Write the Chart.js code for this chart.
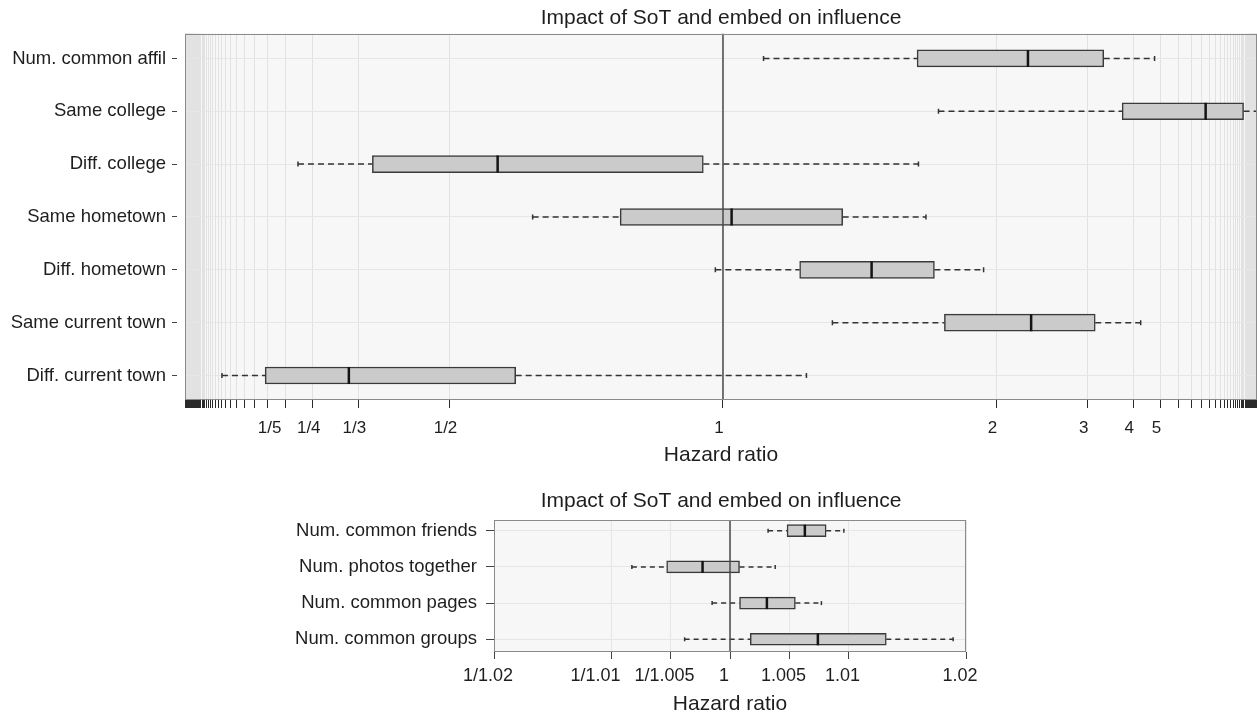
<!DOCTYPE html>
<html>
<head>
<meta charset="utf-8">
<script src="https://cdn.jsdelivr.net/npm/chart.js@4.4.1/dist/chart.umd.min.js"></script>
<style>
  html, body { margin: 0; padding: 0; background: #ffffff; }
  body { width: 1257px; height: 714px; overflow: hidden; position: relative; }
  canvas { position: absolute; }
</style>
</head>
<body>
<canvas id="topChart" width="1257" height="470" style="left:0;top:0;width:1257px;height:470px"></canvas>
<canvas id="bottomChart" width="1072" height="240" style="left:185px;top:480px;width:1072px;height:240px"></canvas>
<script>
// ---------------- DATA ----------------
const chartTitle = 'Impact of SoT and embed on influence';
const axisTitle = 'Hazard ratio';

// Top panel (hazard ratios)
const topCategories = ['Num. common affil', 'Same college', 'Diff. college', 'Same hometown',
                       'Diff. hometown', 'Same current town', 'Diff. current town'];
const topMin    = [1.08, 1.65, 0.223, 0.652, 0.986, 1.25, 0.084];
const topQ1     = [1.55, 3.70, 0.359, 0.812, 1.163, 1.68, 0.163];
const topMedian = [2.26, 8.5,  0.588, 1.016, 1.373, 2.29, 0.316];
const topQ3     = [3.29, 20.7, 0.964, 1.28,  1.63,  3.13, 0.621];
const topMax    = [4.74, 50,   1.556, 1.59,  1.91,  4.23, 1.18];
const topTickValues = [1/5, 1/4, 1/3, 1/2, 1, 2, 3, 4, 5];
const topTickLabels = ['1/5', '1/4', '1/3', '1/2', '1', '2', '3', '4', '5'];
const topRange = [1/60.8, 42.1];

// Bottom panel (hazard ratios)
const bottomCategories = ['Num. common friends', 'Num. photos together', 'Num. common pages', 'Num. common groups'];
const bottomMin    = [1.0032, 0.9918, 0.9985, 0.9962];
const bottomQ1     = [1.0048, 0.9947, 1.0008, 1.0017];
const bottomMedian = [1.0063, 0.9977, 1.0031, 1.0074];
const bottomQ3     = [1.0081, 1.0008, 1.0055, 1.0132];
const bottomMax    = [1.0096, 1.0038, 1.0077, 1.0189];
const bottomTickValues = [1/1.02, 1/1.01, 1/1.005, 1, 1.005, 1.01, 1.02];
const bottomTickLabels = ['1/1.02', '1/1.01', '1/1.005', '1', '1.005', '1.01', '1.02'];
const bottomRange = [1/1.02, 1.02];

const referenceValue = 1;

// ---------------- HELPERS ----------------
const FONT = "'Liberation Sans', Arial, Helvetica, sans-serif";
const TEXT = '#1e1e1e';
// labels that sit a little left of their tick in the original (to avoid crowding)
const labelShiftSpaces = { '1/5': 5, '1/1.01': 4 };
// symmetric hazard-ratio transform: h>=1 -> 1-1/h ; h<1 -> h-1
function T(h) { return h >= 1 ? 1 - 1 / h : h - 1; }
const identity = v => v;

const topXMin = T(topRange[0]), topXMax = T(topRange[1]);
const topAllTicks = [1];
for (let n = 2; n <= 80; n++) { topAllTicks.push(n, 1 / n); }
const topTicks = topAllTicks.filter(v => T(v) >= topXMin - 1e-9 && T(v) <= topXMax + 1e-9);

function boxWhiskerPlugin(cfg) {
  return {
    id: 'boxWhisker',
    beforeDraw(chart) {
      const { ctx, chartArea: a } = chart;
      ctx.save();
      ctx.fillStyle = '#f7f7f7';
      ctx.fillRect(a.left, a.top, a.right - a.left, a.bottom - a.top);
      ctx.restore();
    },
    afterDatasetsDraw(chart) {
      const { ctx, chartArea: a } = chart;
      const xs = chart.scales.x, ys = chart.scales.y;
      const px = v => xs.getPixelForValue(cfg.map(v));
      ctx.save();
      ctx.beginPath();
      ctx.rect(a.left, a.top, a.right - a.left, a.bottom - a.top);
      ctx.clip();
      cfg.categories.forEach((c, i) => {
        const py = ys.getPixelForValue(i);
        ctx.strokeStyle = '#333333';
        ctx.lineWidth = cfg.whiskerWidth;
        ctx.setLineDash(cfg.dash);
        ctx.beginPath(); ctx.moveTo(px(cfg.min[i]), py); ctx.lineTo(px(cfg.q1[i]), py); ctx.stroke();
        ctx.beginPath(); ctx.moveTo(px(cfg.q3[i]), py); ctx.lineTo(px(cfg.max[i]), py); ctx.stroke();
        ctx.setLineDash([]);
        ctx.lineWidth = 1.5;
        [cfg.min[i], cfg.max[i]].forEach(v => {
          const x = px(v);
          ctx.beginPath(); ctx.moveTo(x, py - cfg.cap / 2); ctx.lineTo(x, py + cfg.cap / 2); ctx.stroke();
        });
        ctx.strokeStyle = '#141414';
        ctx.lineWidth = 2.5;
        const mx = px(cfg.median[i]);
        ctx.beginPath(); ctx.moveTo(mx, py - cfg.thickness / 2); ctx.lineTo(mx, py + cfg.thickness / 2); ctx.stroke();
      });
      const rx = px(cfg.ref);
      ctx.strokeStyle = '#4a4a4a';
      ctx.lineWidth = 1.5;
      ctx.beginPath(); ctx.moveTo(rx, a.top); ctx.lineTo(rx, a.bottom); ctx.stroke();
      ctx.restore();
    },
    afterDraw(chart) {
      const { ctx, chartArea: a } = chart;
      ctx.save();
      ctx.strokeStyle = '#8a8a8a';
      ctx.lineWidth = 1;
      ctx.strokeRect(Math.round(a.left) + 0.5, Math.round(a.top) + 0.5,
                     Math.round(a.right - a.left) - 1, Math.round(a.bottom - a.top) - 1);
      ctx.restore();
    }
  };
}

function labelFor(values, labels, map) {
  return function (value) {
    const i = values.findIndex(v => Math.abs(map(v) - value) < 1e-9);
    if (i < 0) return '';
    const lab = labels[i];
    return lab + ' '.repeat(labelShiftSpaces[lab] || 0);
  };
}

// ---------------- TOP CHART ----------------
new Chart(document.getElementById('topChart'), {
  type: 'bar',
  data: {
    datasets: [{
      data: topCategories.map((c, i) => ({ y: i, x: [T(topQ1[i]), T(topQ3[i])] })),
      backgroundColor: '#cbcbcb',
      borderColor: '#3a3a3a',
      borderWidth: 1.5,
      borderSkipped: false,
      barThickness: 17
    }]
  },
  options: {
    indexAxis: 'y',
    responsive: false,
    animation: false,
    devicePixelRatio: 1,
    layout: { padding: 0 },
    plugins: {
      legend: { display: false },
      tooltip: { enabled: false },
      title: {
        display: true, text: chartTitle, fullSize: false, color: TEXT,
        font: { family: FONT, size: 21, weight: 'normal' },
        padding: { top: 5.4, bottom: 3 }
      }
    },
    scales: {
      x: {
        type: 'linear', min: topXMin, max: topXMax, bounds: 'data', offset: false,
        afterBuildTicks: s => { s.ticks = topTicks.map(v => ({ value: T(v) })); },
        afterFit: s => { s.height = 70; },
        ticks: {
          autoSkip: false, maxRotation: 0, minRotation: 0, padding: 10, labelOffset: -4,
          color: TEXT, font: { family: FONT, size: 17 },
          callback: labelFor(topTickValues, topTickLabels, T)
        },
        grid: { color: '#e2e2e2', tickColor: '#2a2a2a', tickLength: 8, lineWidth: 1, offset: false },
        border: { display: false },
        title: {
          display: true, text: axisTitle, color: TEXT,
          font: { family: FONT, size: 21 }, padding: { top: 0, bottom: 2.4 }
        }
      },
      y: {
        type: 'linear', reverse: true, min: -0.47, max: 6.464, bounds: 'data', offset: false,
        afterBuildTicks: s => { s.ticks = topCategories.map((c, i) => ({ value: i })); },
        afterFit: s => { s.width = 185; },
        ticks: {
          autoSkip: false, padding: 6, color: TEXT, font: { family: FONT, size: 18.5 },
          callback: v => topCategories[v]
        },
        grid: { color: '#e6e6e6', tickColor: '#444444', tickLength: 13, tickBorderDash: [5, 40], offset: false },
        border: { display: false }
      }
    }
  },
  plugins: [boxWhiskerPlugin({
    categories: topCategories, min: topMin, q1: topQ1, median: topMedian, q3: topQ3, max: topMax,
    map: T, thickness: 17, cap: 5, dash: [6, 4], whiskerWidth: 1.5, ref: referenceValue
  })]
});

// ---------------- BOTTOM CHART ----------------
new Chart(document.getElementById('bottomChart'), {
  type: 'bar',
  data: {
    datasets: [{
      data: bottomCategories.map((c, i) => ({ y: i, x: [bottomQ1[i], bottomQ3[i]] })),
      backgroundColor: '#cbcbcb',
      borderColor: '#3a3a3a',
      borderWidth: 1.5,
      borderSkipped: false,
      barThickness: 12
    }]
  },
  options: {
    indexAxis: 'y',
    responsive: false,
    animation: false,
    devicePixelRatio: 1,
    layout: { padding: 0 },
    plugins: {
      legend: { display: false },
      tooltip: { enabled: false },
      title: {
        display: true, text: chartTitle, color: TEXT,
        font: { family: FONT, size: 21, weight: 'normal' },
        padding: { top: 8.4, bottom: 6.4 }
      }
    },
    scales: {
      x: {
        type: 'logarithmic', min: bottomRange[0], max: bottomRange[1], bounds: 'data', offset: false,
        afterBuildTicks: s => { s.ticks = bottomTickValues.map(v => ({ value: v })); },
        afterFit: s => { s.height = 68; },
        ticks: {
          autoSkip: false, maxRotation: 0, minRotation: 0, padding: 6, labelOffset: -6,
          color: TEXT, font: { family: FONT, size: 18 },
          callback: labelFor(bottomTickValues, bottomTickLabels, identity)
        },
        grid: { color: '#e6e6e6', tickColor: '#444444', tickLength: 7, offset: false },
        border: { display: false },
        title: {
          display: true, text: axisTitle, color: TEXT, align: 'center',
          font: { family: FONT, size: 21 }, padding: { top: 0, bottom: 3.4 }
        }
      },
      y: {
        type: 'linear', reverse: true, min: -0.2957, max: 3.351, bounds: 'data', offset: false,
        afterBuildTicks: s => { s.ticks = bottomCategories.map((c, i) => ({ value: i })); },
        afterFit: s => { s.width = 309; },
        ticks: {
          autoSkip: false, padding: 9, color: TEXT, font: { family: FONT, size: 18.5 },
          callback: v => bottomCategories[v]
        },
        grid: { color: '#e6e6e6', tickColor: '#444444', tickLength: 8, offset: false },
        border: { display: false }
      },
      y2: {
        type: 'linear', position: 'right', display: true, offset: false,
        afterFit: s => { s.width = 291; },
        ticks: { display: false },
        grid: { display: false, drawTicks: false },
        border: { display: false }
      }
    }
  },
  plugins: [boxWhiskerPlugin({
    categories: bottomCategories, min: bottomMin, q1: bottomQ1, median: bottomMedian, q3: bottomQ3, max: bottomMax,
    map: identity, thickness: 12, cap: 4, dash: [5, 4], whiskerWidth: 1.5, ref: referenceValue
  })]
});
</script>
</body>
</html>
